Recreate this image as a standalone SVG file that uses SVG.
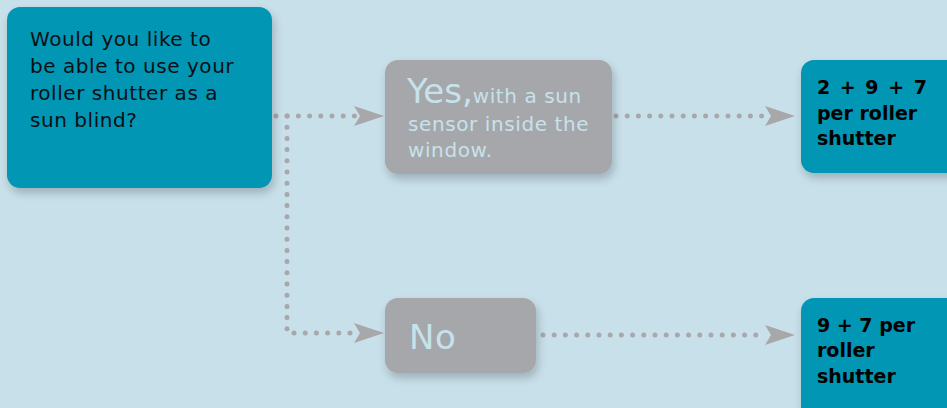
<svg xmlns="http://www.w3.org/2000/svg" width="947" height="408" viewBox="0 0 947 408">
<defs>
<filter id="sh" x="-20%" y="-20%" width="140%" height="150%">
<feGaussianBlur in="SourceAlpha" stdDeviation="5"/>
<feOffset dx="2" dy="5"/>
<feComponentTransfer><feFuncA type="linear" slope="0.22"/></feComponentTransfer>
<feMerge><feMergeNode/><feMergeNode in="SourceGraphic"/></feMerge>
</filter>
<marker id="ah" viewBox="0 0 30 20" refX="30" refY="10" markerWidth="30" markerHeight="20" markerUnits="userSpaceOnUse" orient="auto">
<path d="M0,0 L30,10 L0,20 L6,10 Z" fill="#a8a8ab"/>
</marker>
</defs>
<style>
.q{fill:#0096b4}
.g{fill:#a6a7aa}
.dot{fill:none;stroke:#a8a8ab;stroke-width:5;stroke-linecap:round;stroke-dasharray:0 11.2}
.t{font-family:"DejaVu Sans",sans-serif;font-size:20px;fill:#0a0f14;letter-spacing:0.55px}
.b{font-family:"DejaVu Sans",sans-serif;font-size:19px;font-weight:bold;fill:#000}
.l{font-family:"DejaVu Sans",sans-serif;fill:#c6e2ec;letter-spacing:0.6px}
</style>
<rect width="947" height="408" fill="#c8e0ea"/>
<g id="connectors">
<path class="dot" d="M276,116 H355"/>
<path d="M354,116 H384" marker-end="url(#ah)"/>
<path class="dot" d="M287,116 V333 H355"/>
<path d="M354,333 H384" marker-end="url(#ah)"/>
<path class="dot" d="M616,116 H766"/>
<path d="M765,116 H795" marker-end="url(#ah)"/>
<path class="dot" d="M543,335 H766"/>
<path d="M765,335 H795" marker-end="url(#ah)"/>
</g>
<g id="question">
<rect class="q" x="7" y="7" width="265" height="181" rx="13" filter="url(#sh)"/>
<text class="t"><tspan x="30" y="46">Would you like to</tspan><tspan x="30" y="73">be able to use your</tspan><tspan x="30" y="100">roller shutter as a</tspan><tspan x="30" y="127">sun blind?</tspan></text>
</g>
<g id="yes">
<rect class="g" x="385" y="60" width="227" height="114" rx="13" filter="url(#sh)"/>
<text class="l"><tspan x="407" y="103" font-size="34" letter-spacing="0">Yes,</tspan><tspan font-size="20">with a sun</tspan><tspan x="408" y="131" font-size="20">sensor inside the</tspan><tspan x="408" y="157" font-size="20">window.</tspan></text>
</g>
<g id="result1">
<rect class="q" x="801" y="60" width="160" height="113" rx="13" filter="url(#sh)"/>
<text class="b"><tspan x="817" y="94" word-spacing="3">2 + 9 + 7</tspan><tspan x="817" y="120">per roller</tspan><tspan x="817" y="145">shutter</tspan></text>
</g>
<g id="no">
<rect class="g" x="385" y="298" width="151" height="75" rx="13" filter="url(#sh)"/>
<text class="l" x="409" y="349" font-size="34" letter-spacing="0">No</text>
</g>
<g id="result2">
<rect class="q" x="801" y="298" width="160" height="125" rx="13" filter="url(#sh)"/>
<text class="b"><tspan x="817" y="332">9 + 7 per</tspan><tspan x="817" y="357">roller</tspan><tspan x="817" y="383">shutter</tspan></text>
</g>
</svg>
